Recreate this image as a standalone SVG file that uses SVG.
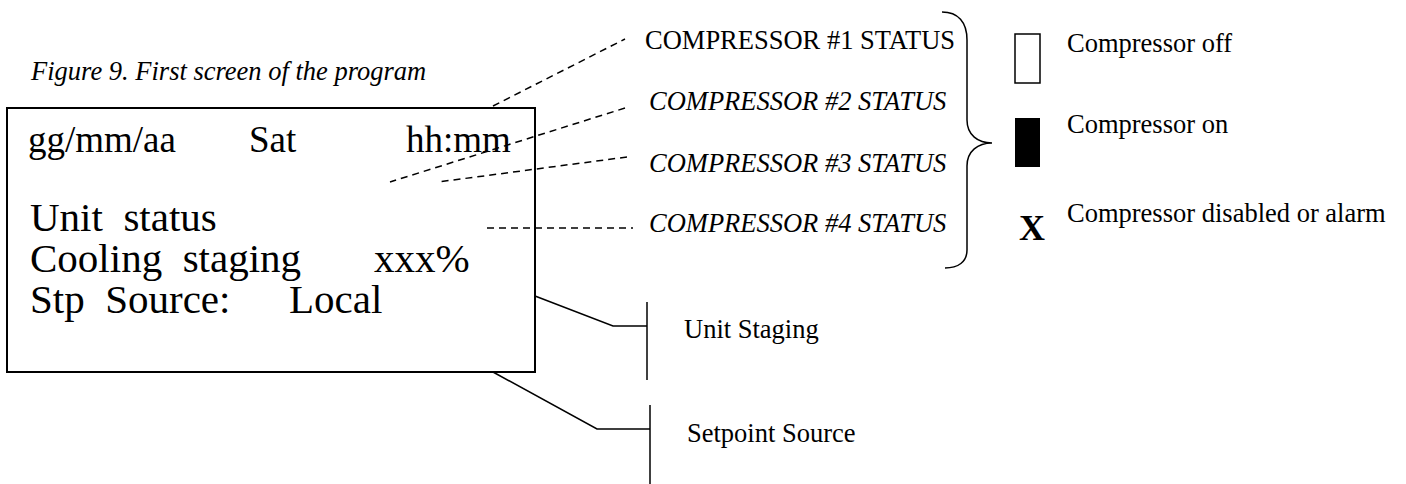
<svg xmlns="http://www.w3.org/2000/svg" width="1406" height="484" viewBox="0 0 1406 484">
<style>
text{font-family:"Liberation Serif","Times New Roman",serif;fill:#000}
.lcd{font-size:41px}
.lcd1{font-size:37px}
.lbl{font-size:26.5px}
.it{font-style:italic}
.ln{stroke:#000;stroke-width:1.5;fill:none}
.dash{stroke:#000;stroke-width:1.5;fill:none;stroke-dasharray:7,5}
</style>
<rect width="1406" height="484" fill="#fff"/>
<text class="it" x="31" y="80" font-size="26.5">Figure 9. First screen of the program</text>
<g id="screen">
<rect x="7" y="108" width="528" height="264" fill="none" stroke="#000" stroke-width="2"/>
<text class="lcd1" x="28" y="152">gg/mm/aa</text>
<text class="lcd1" x="249" y="152">Sat</text>
<text class="lcd1" x="406" y="152">hh:mm</text>
<text class="lcd" x="30" y="231" xml:space="preserve">Unit  status</text>
<text class="lcd" x="30" y="272" xml:space="preserve">Cooling  staging</text>
<text class="lcd" x="374" y="272">xxx%</text>
<text class="lcd" x="30" y="313" xml:space="preserve">Stp  Source:</text>
<text class="lcd" x="289" y="313">Local</text>
</g>
<g id="connectors">
<line class="dash" x1="493" y1="106" x2="625" y2="39"/>
<line class="dash" x1="625" y1="108" x2="390" y2="182"/>
<line class="dash" x1="627" y1="157" x2="438" y2="182"/>
<line class="dash" x1="487" y1="228" x2="633" y2="228"/>
<polyline class="ln" points="535,296 613,326 647,326"/>
<line class="ln" x1="647" y1="302" x2="647" y2="380"/>
<polyline class="ln" points="493,372 597,429 650,429"/>
<line class="ln" x1="650" y1="405" x2="650" y2="484"/>
<path class="ln" d="M942,12 C958,12 967,22 967,40 L967,120 C967,135 978,143 992,143 C978,143 967,151 967,166 L967,250 C967,262 958,268 945,268"/>
</g>
<g id="comp1"><text class="lbl" x="645" y="49">COMPRESSOR #1 STATUS</text></g>
<g id="comp2"><text class="lbl it" x="649" y="110">COMPRESSOR #2 STATUS</text></g>
<g id="comp3"><text class="lbl it" x="649" y="172">COMPRESSOR #3 STATUS</text></g>
<g id="comp4"><text class="lbl it" x="649" y="232">COMPRESSOR #4 STATUS</text></g>
<g id="legend-off">
<rect x="1015" y="34" width="25" height="49" fill="#fff" stroke="#000" stroke-width="1.5"/>
<text class="lbl" x="1067" y="52">Compressor off</text>
</g>
<g id="legend-on">
<rect x="1015" y="118" width="25" height="49" fill="#000"/>
<text class="lbl" x="1067" y="133">Compressor on</text>
</g>
<g id="legend-alarm">
<text x="1019" y="240" font-size="36" font-weight="bold">X</text>
<text class="lbl" x="1067" y="222">Compressor disabled or alarm</text>
</g>
<g id="unit-staging"><text class="lbl" x="684" y="338">Unit Staging</text></g>
<g id="setpoint-source"><text class="lbl" x="687" y="442">Setpoint Source</text></g>
</svg>
